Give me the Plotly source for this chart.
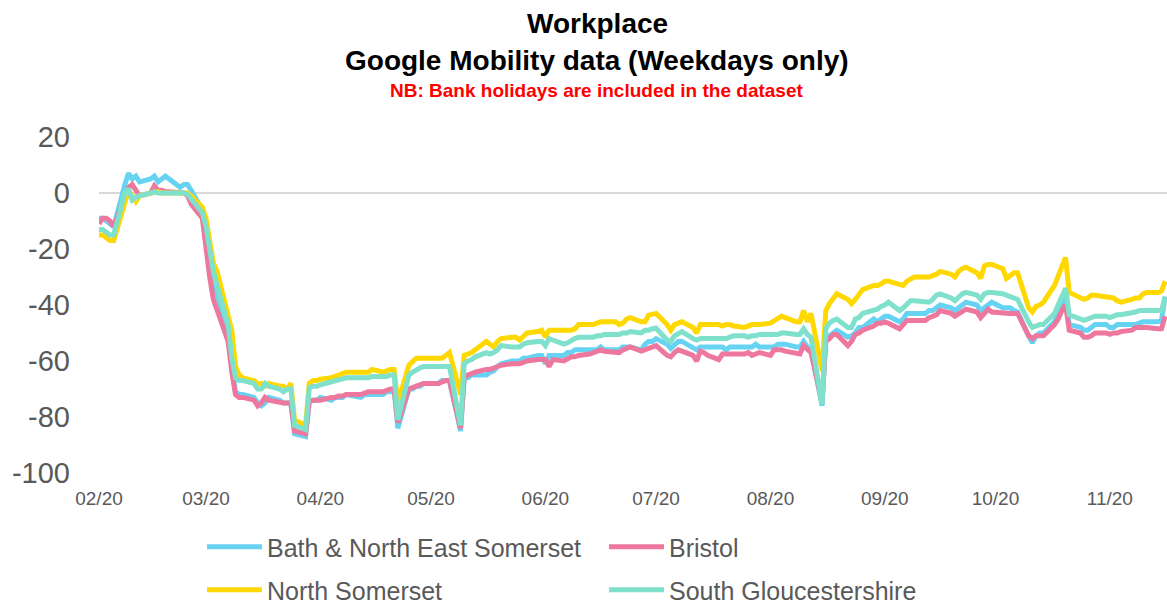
import pandas as pd
import plotly.graph_objects as go

# ---------------- data ----------------
start_date = "2020-02-17"
end_date = "2020-12-02"
dates = pd.bdate_range(start_date, end_date)  # weekdays only

series_names = ["Bath & North East Somerset", "Bristol", "North Somerset", "South Gloucestershire"]
series_colors = ["#66D3F3", "#EE789D", "#FFD800", "#7FE0CC"]

bath = [
    -9, -9, -10, -11, -12,
    3, 7, 5, 6, 4,
    5, 6, 4, 5, 6,
    3, 2, 3, 3, 1,
    -6, -12, -22, -30, -36,
    -50, -62, -71, -72, -72,
    -73, -75, -76, -75, -73,
    -74, -75, -75, -75, -86,
    -87, -74, -74, -74, -73,
    -74, -73, -73, -73, -72,
    -73, -73, -72, -72, -72,
    -72, -71, -71, -70, -84,
    -70, -70, -69, -69, -68,
    -68, -68, -67, -67, -67,
    -85, -66, -66, -65, -65,
    -65, -64, -63.5, -62, -61,
    -60, -60, -60, -59, -59,
    -58, -58, -61, -58, -58,
    -58, -57, -57, -56, -56,
    -56, -56, -56, -55, -56,
    -56, -56, -55, -55, -55,
    -56, -54, -53, -53, -52,
    -54, -55.5, -54, -53, -53,
    -55, -56, -55, -55, -55,
    -55, -55, -56, -55, -55,
    -55, -55, -55, -54, -55,
    -55, -55, -54, -54, -54,
    -55, -55, -53, -55, -56,
    -76, -52, -51, -50, -49,
    -51.5, -51, -50, -48, -48,
    -45, -46, -45, -44, -44,
    -46, -45, -43, -43, -43,
    -43, -42, -42, -41, -40,
    -41, -42, -41, -40, -39,
    -40, -42, -41, -40, -39,
    -41, -41, -41, -42, -42.5,
    -51, -53.5, -51, -50, -50,
    -46, -43, -40, -37, -47,
    -48, -49, -49, -48, -47,
    -47, -48, -48, -47, -47,
    -47, -47, -46.5, -46, -46,
    -46, -45.5, -37,
]

bristol = [
    -11, -9, -9, -10, -12,
    -1, 2, 3, 1, -1,
    0, 2.5, 1, 1, 0.5,
    0, 0, 0, -1, -4,
    -9, -20, -30, -38, -42,
    -53, -64, -72, -73, -73,
    -74, -76, -75, -73, -74,
    -75, -75, -75, -75, -85,
    -86, -74.5, -74, -74, -74,
    -73, -73, -72.5, -72.5, -72,
    -72, -72, -71.5, -71, -71,
    -71, -70.5, -70, -70, -82,
    -70, -69.5, -69, -68.5, -68,
    -68, -68, -67.5, -67, -67,
    -84, -65.5, -65, -64.5, -64,
    -63, -63, -62.5, -62, -61.5,
    -61, -61, -61, -60.5, -60,
    -59.5, -59.5, -59.5, -62, -59.5,
    -60, -59, -58.5, -58.5, -58,
    -57.5, -57, -56.5, -56, -56.5,
    -57, -57, -56, -55.5, -55,
    -56.5, -56, -55.5, -55, -54.5,
    -58, -58.5, -57, -56, -56.5,
    -58, -60, -56.5, -57, -58,
    -59.5, -57.5, -57.5, -57.5, -57.5,
    -57.5, -57, -58, -57.5, -57,
    -58, -56, -56, -56, -56.5,
    -57.5, -57.5, -54.5, -56, -57,
    -74.5, -53, -52, -50.5, -50.5,
    -54.5, -53, -50.5, -50, -49,
    -47.5, -46.5, -46.5, -46, -46.5,
    -48.5, -47, -45.5, -45.5, -45.5,
    -45.5, -44.5, -44, -43.5, -42,
    -43, -44, -43, -42.5, -41.5,
    -42.5, -44.5, -43, -41.5, -42.5,
    -43, -43, -43, -43, -43,
    -51, -52, -51, -51, -51,
    -47, -45, -42, -40, -49,
    -50, -51.5, -51.5, -51, -50,
    -50, -50.5, -50, -50, -49.5,
    -49, -48, -48, -48, -48,
    -48.5, -48.5, -44,
]

north_somerset = [
    -15, -15, -16, -17, -17,
    -4, 1, -1, -3, -1,
    0, 0, 0.5, 0, 0,
    0, 0, 0, 0, -1,
    -5, -9, -17, -25, -28,
    -44, -49, -62, -65, -66,
    -67, -68, -68, -69, -68,
    -69, -69, -70, -68, -81,
    -83, -68, -67, -67, -66.5,
    -66, -65.5, -65, -64.5, -64,
    -64, -64, -64, -64, -63,
    -64, -63.5, -63, -63, -75,
    -61.5, -60, -59, -59, -59,
    -59, -59, -59, -58, -57,
    -72, -58, -57.5, -57, -56,
    -53, -54, -55, -53, -52,
    -51.5, -51.5, -52.5, -51, -50,
    -49.5, -49, -51.5, -49, -49,
    -49, -49, -49, -48.5, -47,
    -47, -47, -46.5, -46, -46,
    -46, -47, -46.5, -45, -44.5,
    -46, -46, -43.6, -43.5, -43,
    -47, -49, -47, -46.5, -46,
    -48, -50, -47, -47, -47,
    -47, -47.5, -47, -47, -47.5,
    -48, -47.5, -47, -47, -47,
    -46.5, -45.5, -45, -44, -44.5,
    -46, -46, -42, -46, -43,
    -63.5, -42, -39.5, -38, -36,
    -38, -39.5, -38, -36, -34.5,
    -33, -33, -32.5, -31.5, -31.5,
    -32.5, -33, -31.5, -30.5, -30,
    -30, -30, -29.5, -29, -28,
    -29, -30, -28, -27, -26.5,
    -28.5, -30.5, -26, -25.5, -25.5,
    -27, -30.5, -29.5, -28.5, -28.5,
    -41, -42.5, -40.5, -40, -39,
    -33, -30, -27, -23, -35.5,
    -37.5, -38, -37.5, -36.5, -36.5,
    -37, -37, -37.5, -38.5, -39,
    -38, -37.5, -37.5, -36, -35.5,
    -35.5, -35, -31.5,
]

south_glos = [
    -13, -13, -14, -15, -15,
    0, 1.5, -2.5, -1.5, -1,
    0, 0.5, 0, 0, 0,
    0, 0, 0, -0.5, -2,
    -7, -12, -20, -28, -33,
    -47, -59, -66, -67, -67,
    -68, -70, -70, -68, -69,
    -70, -71, -70, -70, -83,
    -84.5, -69.5, -69, -69, -68.5,
    -67.5, -67, -67, -66.5, -66,
    -66, -66, -66, -66, -65.5,
    -65.5, -65.5, -65, -65, -81,
    -65, -64, -63, -62.5, -62,
    -62, -62, -62, -62, -62,
    -83, -61, -60, -59.5, -58.5,
    -57, -57.5, -57, -56, -54.5,
    -55, -55, -55, -54, -53.5,
    -53, -53, -54.5, -52, -52.5,
    -54, -53.5, -52.5, -52, -51.5,
    -51.5, -51.5, -51, -51, -50.5,
    -50.5, -50.5, -50, -50, -49.5,
    -50, -49, -49, -48.5, -48.3,
    -52.5, -53, -51, -50, -49.5,
    -52, -52.5, -52, -52, -52,
    -52, -52, -52, -51.5, -51,
    -51, -51.5, -51, -51, -50.5,
    -50.5, -50.5, -50.5, -50, -50,
    -50.5, -50.5, -48.5, -50.5, -51.5,
    -75.5, -48.5, -46.5, -45.5, -45,
    -48, -48, -45, -44.5, -43,
    -42, -41.5, -40.5, -40, -39,
    -42, -41, -39.5, -38.5, -38.5,
    -39, -39, -38, -36.5, -36,
    -37.5, -38.5, -37, -36, -35.5,
    -36.5, -38, -36, -35.5, -35.5,
    -36, -36.5, -37, -37.5, -38,
    -46, -48, -47.5, -47, -47,
    -43, -40, -37, -34, -43.5,
    -45, -45.5, -45, -44.5, -44,
    -44, -44.5, -44, -43.5, -43.5,
    -43, -42.5, -42, -42, -42,
    -42, -42, -37,
]

x_tick_dates = ["2020-02-17", "2020-03-17", "2020-04-17", "2020-05-17", "2020-06-17",
                "2020-07-17", "2020-08-17", "2020-09-17", "2020-10-17", "2020-11-17"]
x_tick_labels = ["02/20", "03/20", "04/20", "05/20", "06/20",
                 "07/20", "08/20", "09/20", "10/20", "11/20"]
y_ticks = [20, 0, -20, -40, -60, -80, -100]
y_tick_labels = ["20", "0", "-20", "-40", "-60", "-80", "-100"]

title_lines = ["Workplace", "Google Mobility data (Weekdays only)"]
subtitle = "NB: Bank holidays are included in the dataset"

# ---------------- figure ----------------
FONT = "Liberation Sans, Arial, sans-serif"
fig = go.Figure()
all_series = [bath, bristol, north_somerset, south_glos]
legend_ids = ["legend", "legend", "legend2", "legend2"]
for name, vals, col, lg in zip(series_names, all_series, series_colors, legend_ids):
    fig.add_trace(go.Scatter(
        x=dates, y=vals, mode="lines", name=name,
        line=dict(color=col, width=5, shape="linear"),
        legend=lg,
    ))

W, H = 1167, 606
ml, mr, mt, mb = 99, 0, 137, 133
plot_w = W - ml - mr
plot_h = H - mt - mb

def py(ypx):
    return (H - mb - ypx) / plot_h

def px(xpx):
    return (xpx - ml) / plot_w

legend_common = dict(
    orientation="h", xanchor="left", yanchor="middle",
    font=dict(family=FONT, size=25, color="#595959"),
    itemwidth=55, entrywidth=332, entrywidthmode="pixels",
    bgcolor="rgba(0,0,0,0)", borderwidth=0,
    itemclick=False, itemdoubleclick=False,
)

fig.update_layout(
    width=W, height=H,
    margin=dict(l=ml, r=mr, t=mt, b=mb, pad=0, autoexpand=False),
    paper_bgcolor="white", plot_bgcolor="white",
    font=dict(family=FONT, color="#595959"),
    showlegend=True,
    legend=dict(x=px(202), y=py(547), **legend_common),
    legend2=dict(x=px(202), y=py(590), **legend_common),
    xaxis=dict(
        type="date",
        range=["2020-02-17", "2020-12-02 12:00"],
        tickvals=x_tick_dates, ticktext=x_tick_labels,
        showgrid=False, showline=False, zeroline=False,
        ticks="", tickfont=dict(family=FONT, size=19, color="#595959"),
        ticklabelstandoff=12,
    ),
    yaxis=dict(
        range=[-100, 20],
        tickvals=y_ticks, ticktext=y_tick_labels,
        showgrid=False, showline=False,
        zeroline=True, zerolinecolor="#D9D9D9", zerolinewidth=2,
        ticks="", tickfont=dict(family=FONT, size=29, color="#595959"),
        ticklabelstandoff=28,
    ),
)

fig.add_annotation(text="<b>" + title_lines[0] + "</b>", xref="paper", yref="paper",
                   x=px(597), y=py(23), showarrow=False, xanchor="center", yanchor="middle",
                   font=dict(family=FONT, size=28, color="black"))
fig.add_annotation(text="<b>" + title_lines[1] + "</b>", xref="paper", yref="paper",
                   x=px(597), y=py(61), showarrow=False, xanchor="center", yanchor="middle",
                   font=dict(family=FONT, size=28, color="black"))
fig.add_annotation(text="<b>" + subtitle + "</b>", xref="paper", yref="paper",
                   x=px(596), y=py(90), showarrow=False, xanchor="center", yanchor="middle",
                   font=dict(family=FONT, size=19, color="#FF0000"))

fig.write_html(
    "out.html",
    config={"displayModeBar": False},
    post_script="document.body.style.margin='0px';document.body.style.overflow='hidden';",
)
